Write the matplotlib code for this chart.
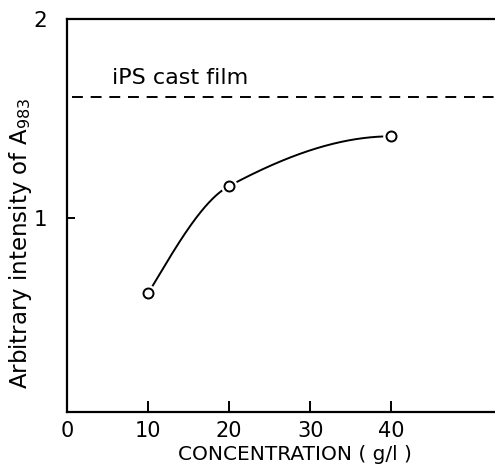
import numpy as np
import matplotlib
matplotlib.use("Agg")
import matplotlib.pyplot as plt

# data
concentration = [10, 20, 40]
intensity = [0.62, 1.16, 1.41]
cast_film_level = 1.61
cast_film_label = "iPS cast film"
xticks = [0, 10, 20, 30, 40]
yticks = [1, 2]
xlabel = "CONCENTRATION ( g/l )"
ylabel = r"Arbitrary intensity of A$_{983}$"


def pchip(x, y, xs):
    x = np.asarray(x, float); y = np.asarray(y, float)
    h = np.diff(x); d = np.diff(y) / h
    n = len(x); m = np.zeros(n)
    for k in range(1, n - 1):
        if d[k - 1] * d[k] > 0:
            w1 = 2 * h[k] + h[k - 1]; w2 = h[k] + 2 * h[k - 1]
            m[k] = (w1 + w2) / (w1 / d[k - 1] + w2 / d[k])
    def end(h0, h1, d0, d1):
        s = ((2 * h0 + h1) * d0 - h0 * d1) / (h0 + h1)
        if np.sign(s) != np.sign(d0):
            s = 0.0
        elif np.sign(d0) != np.sign(d1) and abs(s) > abs(3 * d0):
            s = 3 * d0
        return s
    m[0] = end(h[0], h[1], d[0], d[1])
    m[-1] = end(h[-1], h[-2], d[-1], d[-2])
    out = np.empty_like(xs)
    for i, xv in enumerate(xs):
        k = min(np.searchsorted(x, xv) - 1, n - 2); k = max(k, 0)
        t = (xv - x[k]) / h[k]
        h00 = 2 * t**3 - 3 * t**2 + 1; h10 = t**3 - 2 * t**2 + t
        h01 = -2 * t**3 + 3 * t**2; h11 = t**3 - t**2
        out[i] = h00 * y[k] + h10 * h[k] * m[k] + h01 * y[k + 1] + h11 * h[k] * m[k + 1]
    return out


plt.rcParams['font.family'] = ['DejaVu Sans']
fig = plt.figure(figsize=(4.95, 4.7), dpi=100)
ax = fig.add_axes([67 / 495, (470 - 411.7) / 470, 1 - 67 / 495, (411.7 - 19) / 470])
ax.set_xlim(0, 52.8)
ax.set_ylim(0.025, 2)

xs = np.linspace(min(concentration), max(concentration), 300)
ax.plot(xs, pchip(concentration, intensity, xs), color='black', lw=1.4, zorder=2)
ax.plot(concentration, intensity, 'o', ms=12, mfc='white', mec='none', zorder=3)
ax.plot(concentration, intensity, 'o', ms=7.2, mfc='white', mec='black', mew=1.4, zorder=4)

ax.plot([0.6, 52.8], [cast_film_level, cast_film_level], color='black', lw=1.4,
        dashes=(5.6, 4.0), zorder=2)
ax.text(5.6, cast_film_level + 0.045, cast_film_label, fontsize=16, color='black',
        ha='left', va='bottom')

ax.set_xticks(xticks)
ax.set_xticklabels([str(v) for v in xticks])
ax.set_yticks(yticks)
ax.set_yticklabels([str(v) for v in yticks])
ax.tick_params(axis='x', direction='in', length=8, width=1.4, pad=6.5, labelsize=15)
ax.tick_params(axis='y', direction='in', length=6, width=1.4, pad=14, labelsize=15.5)
for s in ['left', 'bottom', 'top']:
    ax.spines[s].set_linewidth(1.6)
ax.spines['right'].set_visible(False)

ax.set_xlabel(xlabel, fontsize=14.5)
ax.xaxis.set_label_coords((295 - 67) / 428, -(454 - 411.7) / 392.7)
ax.xaxis.label.set_va('center')
ax.set_ylabel(ylabel, fontsize=16.5)
ax.yaxis.set_label_coords(-(67 - 21) / 428, (411.7 - 243) / 392.7)
ax.yaxis.label.set_va('center')

fig.savefig("out.png", dpi=100)
